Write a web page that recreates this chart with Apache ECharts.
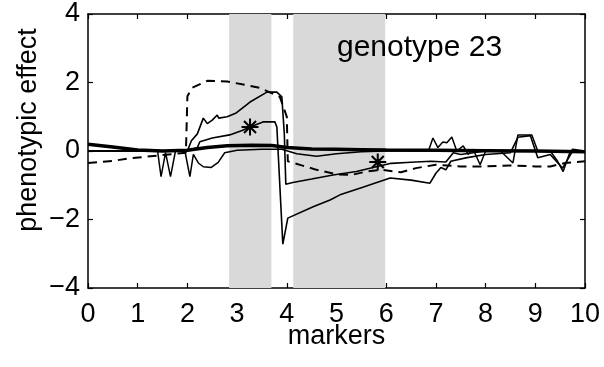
<!DOCTYPE html>
<html>
<head>
<meta charset="utf-8">
<script src="https://cdn.jsdelivr.net/npm/echarts@6/dist/echarts.min.js"></script>
<style>html,body{margin:0;padding:0;background:#fff}#c{width:604px;height:367px}</style>
</head>
<body>
<div id="c"></div>
<script>
// ---- data ----
var xTicks = [0,1,2,3,4,5,6,7,8,9,10];
var yTicks = [-4,-2,0,2,4];
var shadedRegions = [[2.84, 3.69], [4.13, 5.98]];
var thickLine = [[0,0.2],[0.5,0.12],[1,0.03],[1.5,0.0],[2,0.02],[2.4,0.1],[2.8,0.15],[3.3,0.17],[3.7,0.16],[4,0.1],[4.5,0.06],[5,0.05],[5.5,0.04],[6,0.03],[7,0.02],[8,0.01],[9,0.0],[10,-0.02]];
var dashedLine = [[0,-0.35],[0.5,-0.29],[0.8,-0.22],[1.15,-0.17],[1.5,-0.12],[1.97,-0.05],[2.0,1.6],[2.1,1.85],[2.4,2.05],[2.8,2.03],[3.2,1.92],[3.46,1.84],[3.86,1.58],[4.0,1.0],[4.02,-0.3],[4.3,-0.42],[4.6,-0.55],[5.0,-0.68],[5.3,-0.7],[5.6,-0.6],[5.9,-0.55],[6.3,-0.62],[6.6,-0.5],[7.0,-0.4],[7.5,-0.45],[8.0,-0.45],[8.5,-0.42],[9.0,-0.45],[9.3,-0.45],[9.6,-0.35],[10,-0.3]];
var upperLine = [[0,0.0],[1,0.0],[2.0,0.0],[2.08,0.3],[2.2,0.5],[2.32,0.96],[2.4,0.8],[2.5,0.9],[2.6,1.05],[2.63,0.96],[2.8,1.0],[2.97,1.1],[3.26,1.43],[3.6,1.72],[3.8,1.72],[3.9,1.58],[3.95,0.5],[3.98,-0.97],[4.12,-0.92],[4.5,-0.82],[4.93,-0.7],[5.4,-0.6],[5.8,-0.46],[6.1,-0.36],[6.5,-0.33],[6.9,-0.3],[7.2,-0.32],[7.35,-0.05],[7.5,-0.1],[8.0,0.0],[9.0,0.0],[10,0.0]];
var starLine = [[0,0.0],[1.9,0.0],[2.0,0.0],[2.2,0.1],[2.25,0.27],[2.5,0.38],[2.85,0.47],[3.1,0.6],[3.26,0.7],[3.52,0.85],[3.76,0.85],[3.8,0.7],[3.92,-2.72],[4.02,-1.96],[4.53,-1.63],[4.87,-1.43],[5.07,-1.28],[5.5,-1.07],[6.08,-0.79],[6.5,-0.85],[6.88,-0.94],[7.0,-0.65],[7.1,-0.48],[7.2,-0.55],[7.3,-0.3],[7.6,-0.2],[8.0,-0.1],[8.5,-0.05],[8.65,0.4],[8.9,0.45],[9.05,-0.2],[9.3,-0.1],[9.55,-0.5],[9.75,0.0],[10,0.0]];
var spikyLine = [[0,0.0],[1.4,0.0],[1.47,-0.75],[1.56,-0.05],[1.66,-0.75],[1.76,0.0],[1.95,0.0],[2.05,-0.75],[2.12,-0.1],[2.22,-0.35],[2.32,-0.46],[2.48,-0.48],[2.62,-0.33],[2.75,-0.05],[3.0,0.02],[3.5,0.05],[3.9,0.05],[4.2,-0.08],[4.6,-0.15],[5.0,-0.08],[5.5,-0.02],[6.0,0.0],[6.85,0.0],[6.94,0.38],[7.04,0.1],[7.14,0.26],[7.22,0.24],[7.32,0.41],[7.42,0.0],[7.55,0.15],[7.65,-0.1],[7.75,0.05],[7.89,-0.4],[8.0,0.0],[8.3,0.0],[8.55,-0.35],[8.65,0.47],[8.93,0.47],[9.05,0.0],[9.3,0.0],[9.45,-0.3],[9.56,-0.6],[9.68,-0.1],[9.75,0.05],[10,0.0]];
var starPoints = [[3.26,0.7],[5.83,-0.32]];
var annotation = 'genotype 23';
var xName = 'markers';
var yName = 'phenotypic effect';

var FONT = '"Liberation Sans", Arial, Helvetica, sans-serif';
var asterisk = 'path://M-0.12,-1L0.12,-1L0.12,1L-0.12,1Z' +
  'M-1,-0.12L1,-0.12L1,0.12L-1,0.12Z' +
  'M-0.792,-0.622L-0.622,-0.792L0.792,0.622L0.622,0.792Z' +
  'M-0.622,0.792L-0.792,0.622L0.622,-0.792L0.792,-0.622Z';
function fmt(v){ return String(v).replace('-', '\u2212'); }

var chart = echarts.init(document.getElementById('c'), null, {renderer:'canvas'});
function lineSeries(name, data, width, type){
  return {name:name, type:'line', data:data, showSymbol:false, symbol:'none',
    lineStyle:{color:'#000', width:width, type:type||'solid'}, animation:false, z:3};
}
var baseX = {type:'value', min:xTicks[0], max:xTicks[xTicks.length-1], interval:1,
  splitLine:{show:false}, axisLine:{show:true, onZero:false, lineStyle:{color:'#000', width:1.5}},
  axisTick:{show:true, inside:true, length:5, lineStyle:{color:'#000', width:1.2}}};
var baseY = {type:'value', min:yTicks[0], max:yTicks[yTicks.length-1], interval:2,
  splitLine:{show:false}, axisLine:{show:true, onZero:false, lineStyle:{color:'#000', width:1.5}},
  axisTick:{show:true, inside:true, length:5, lineStyle:{color:'#000', width:1.2}}};

var s1 = lineSeries('thick', thickLine, 3.5);
s1.markArea = {silent:true, itemStyle:{color:'#d9d9d9'},
  data: shadedRegions.map(function(r){ return [{xAxis:r[0]},{xAxis:r[1]}]; })};
s1.z = 4;

chart.setOption({
  animation:false,
  grid:{left:88, right:19, top:14, bottom:79, containLabel:false},
  xAxis:[
    Object.assign({}, baseX, {position:'bottom',
      axisLabel:{show:true, margin:13, color:'#000', fontSize:27, fontFamily:FONT, formatter:fmt},
      name:xName, nameLocation:'middle', nameGap:35, nameMoveOverlap:false,
      nameTextStyle:{color:'#000', fontSize:27, fontFamily:FONT}}),
    Object.assign({}, baseX, {position:'top', axisLabel:{show:false}})
  ],
  yAxis:[
    Object.assign({}, baseY, {position:'left',
      axisLabel:{show:true, margin:8, color:'#000', fontSize:27, fontFamily:FONT, formatter:fmt},
      name:yName, nameLocation:'middle', nameGap:46, nameMoveOverlap:false,
      nameTextStyle:{color:'#000', fontSize:27, fontFamily:FONT, padding:[0,0,0,42]}}),
    Object.assign({}, baseY, {position:'right', axisLabel:{show:false}})
  ],
  series:[
    s1,
    lineSeries('dashed', dashedLine, 2, [9,6]),
    lineSeries('upper', upperLine, 1.6),
    lineSeries('star', starLine, 1.6),
    lineSeries('spiky', spikyLine, 1.5),
    {name:'stars', type:'scatter', data:starPoints, symbol:asterisk, symbolSize:17,
      itemStyle:{color:'#000', opacity:1}, z:5, animation:false}
  ],
  graphic:[{type:'text', left:337, top:33, z:10,
    style:{text:annotation, fill:'#000', font:'30px ' + FONT}}]
});
</script>
</body>
</html>
